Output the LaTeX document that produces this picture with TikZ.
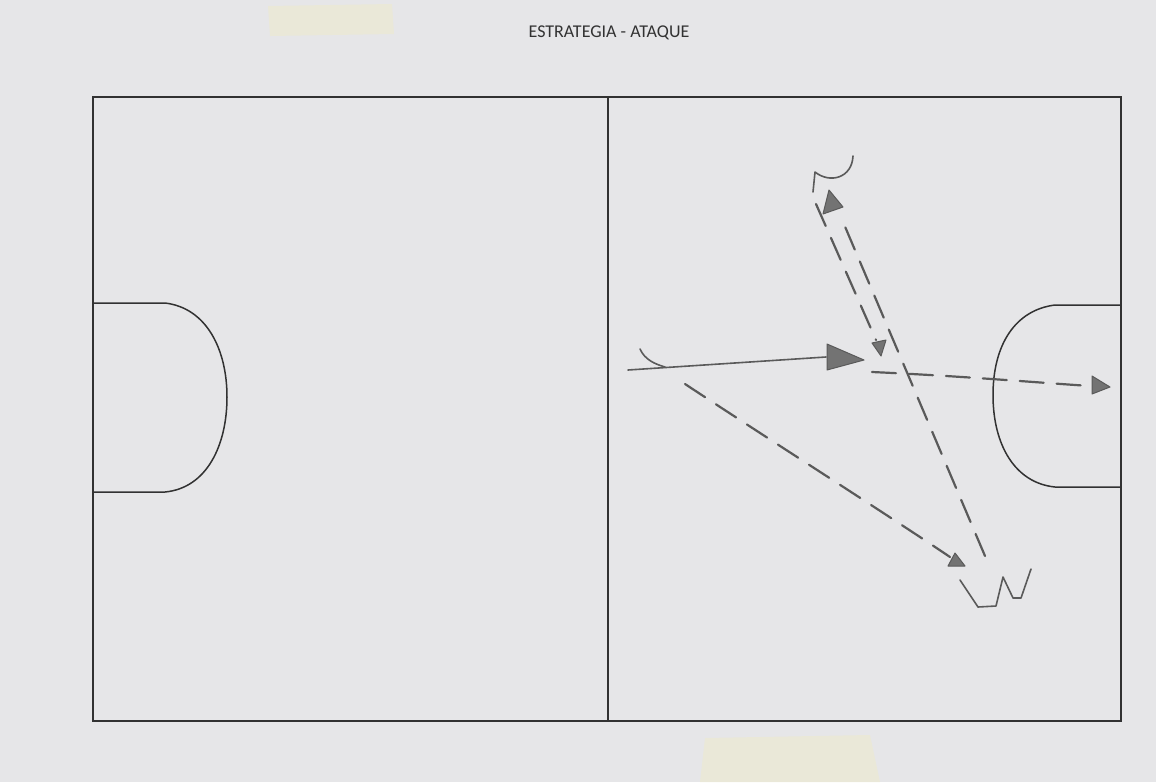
\documentclass[tikz,border=0pt]{standalone}
\usepackage{fontspec}
\newfontfamily\titlefont{Carlito}
\usetikzlibrary{arrows.meta,calc}
\definecolor{paper}{RGB}{230,230,232}
\definecolor{tape}{RGB}{236,234,210}
\definecolor{ink}{RGB}{50,50,50}
\definecolor{pencil}{RGB}{90,90,90}
\tikzset{
  court/.style={draw=ink, line width=1.5pt},
  pen/.style={draw=pencil, line width=2.2pt, line cap=round, line join=round},
  dashpen/.style={pen, dash pattern=on 24pt off 13pt},
  tri/.style={fill=pencil!85, draw=pencil, line width=1pt, line join=round},
}
\begin{document}
\begin{tikzpicture}[x=1pt,y=-1pt]
\fill[paper] (0,0) rectangle (1156,782);
\useasboundingbox (0,0) rectangle (1156,782);
% tape patches
\fill[tape, opacity=0.7] (268,6) -- (392,4) -- (394,34) -- (270,36) -- cycle;
\fill[tape, opacity=0.7] (705,738) -- (870,735) -- (880,782) -- (700,782) -- cycle;
% title
\node[text=ink, font=\titlefont\fontsize{18}{21}\selectfont] (title) at (609,33) {ESTRATEGIA - ATAQUE};
% court
\draw[court] (93,97) rectangle (1121,721);
\draw[court] (608,97) -- (608,721);
% left penalty area
\draw[court] (93,303) -- (165,303) .. controls (207,308) and (227,350) .. (227,397)
  .. controls (227,445) and (207,488) .. (165,492) -- (93,492);
% right penalty area
\draw[court] (1121,305) -- (1055,305) .. controls (1015,310) and (993,345) .. (993,395)
  .. controls (993,445) and (1015,483) .. (1055,487) -- (1121,487);
% named points
\coordinate (pTop) at (832,196);
\coordinate (pLeft) at (628,370);
\coordinate (pBall) at (826,357);
\coordinate (pLowStart) at (985,556);
% player marks
\draw[pen, line width=1.6pt] (813,192) -- (815,172) .. controls (830,184) and (852,178) .. (853,156);
\draw[pen, line width=1.6pt] (640,349) .. controls (645,360) and (655,364) .. (665,367);
\draw[pen, line width=1.6pt] (960,580) -- (978,607) -- (996,606) -- (1003,577) -- (1013,598) -- (1021,598) -- (1031,569);
% solid pass
\draw[pen, line width=1.6pt] (pLeft) -- (pBall);
\draw[tri] (827,344) -- (827,370) -- (864,360) -- cycle;
% dashed runs
\draw[dashpen] (pLowStart) -- ($(pTop)!0.06!(pLowStart)$);
\draw[tri] (829,190) -- (823,214) -- (843,207) -- cycle;
\draw[dashpen] (816,204) -- (876,340);
\draw[tri] (872,343) -- (886,340) -- (881,356) -- cycle;
\draw[dashpen] (872,372) .. controls (960,376) and (1030,382) .. (1090,386);
\draw[tri] (1092,376) -- (1110,387) -- (1092,394) -- cycle;
\draw[dashpen] (685,384) .. controls (770,440) and (880,510) .. (950,557);
\draw[tri] (955,553) -- (948,566) -- (965,566) -- cycle;
\end{tikzpicture}
\end{document}
